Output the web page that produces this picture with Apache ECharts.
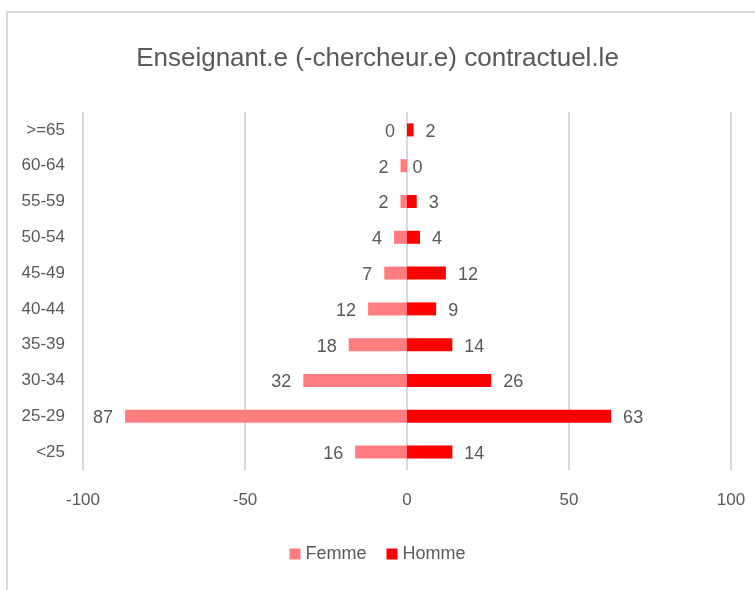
<!DOCTYPE html>
<html>
<head>
<meta charset="utf-8">
<script src="https://cdn.jsdelivr.net/npm/echarts@6/dist/echarts.min.js"></script>
<style>
  html, body { margin: 0; padding: 0; background: #fff; }
  #chart { width: 755px; height: 590px; }
</style>
</head>
<body>
<div id="chart"></div>
<script>
'use strict';

// pyramide des âges — bas vers haut
const ageGroups = ['<25', '25-29', '30-34', '35-39', '40-44', '45-49', '50-54', '55-59', '60-64', '>=65'];
const femme = [16, 87, 32, 18, 12, 7, 4, 2, 2, 0];
const homme = [14, 63, 26, 14, 9, 12, 4, 3, 0, 2];
const xTicks = [-100, -50, 0, 50, 100];

const FONT = '"Liberation Sans", sans-serif';
const GREY = '#595959';
const GRID = '#d9d9d9';

const chart = echarts.init(document.getElementById('chart'), null, { renderer: 'canvas' });

const label = (pos) => ({
  show: true,
  position: pos,
  distance: 12,
  color: GREY,
  fontFamily: FONT,
  fontSize: 18,
  offset: [0, 2],
  formatter: (p) => String(Math.abs(p.value))
});

chart.setOption({
  animation: false,
  backgroundColor: '#fff',
  title: {
    text: 'Enseignant.e (-chercheur.e) contractuel.le',
    left: 'center',
    top: 41,
    textStyle: { color: GREY, fontFamily: FONT, fontSize: 26, fontWeight: 'normal' }
  },
  graphic: [{
    type: 'rect',
    shape: { x: 7, y: 12, width: 800, height: 640 },
    style: { fill: 'none', stroke: GRID, lineWidth: 2 },
    silent: true
  }],
  legend: {
    bottom: 22,
    left: 'center',
    itemWidth: 11,
    itemHeight: 11,
    itemGap: 20,
    icon: 'rect',
    textStyle: { color: GREY, fontFamily: FONT, fontSize: 18 },
    data: ['Femme', 'Homme']
  },
  grid: { left: 83, right: 24, top: 112, bottom: 120 },
  xAxis: {
    type: 'value',
    min: xTicks[0],
    max: xTicks[xTicks.length - 1],
    interval: 50,
    axisLine: { show: false },
    axisTick: { show: false },
    axisLabel: { color: GREY, fontFamily: FONT, fontSize: 17, margin: 22 },
    splitLine: { lineStyle: { color: GRID, width: 2 } }
  },
  yAxis: {
    type: 'category',
    data: ageGroups,
    axisLine: { show: false, onZero: false },
    axisTick: { show: false },
    axisLabel: { color: GREY, fontFamily: FONT, fontSize: 17, margin: 18 }
  },
  series: [
    {
      name: 'Femme',
      type: 'bar',
      stack: 'pyr',
      barWidth: 13,
      itemStyle: { color: '#ff7c80' },
      label: label('left'),
      data: femme.map((v) => -v)
    },
    {
      name: 'Homme',
      type: 'bar',
      stack: 'pyr',
      barWidth: 13,
      itemStyle: { color: '#ff0000' },
      label: label('right'),
      data: homme
    }
  ]
});
</script>
</body>
</html>
